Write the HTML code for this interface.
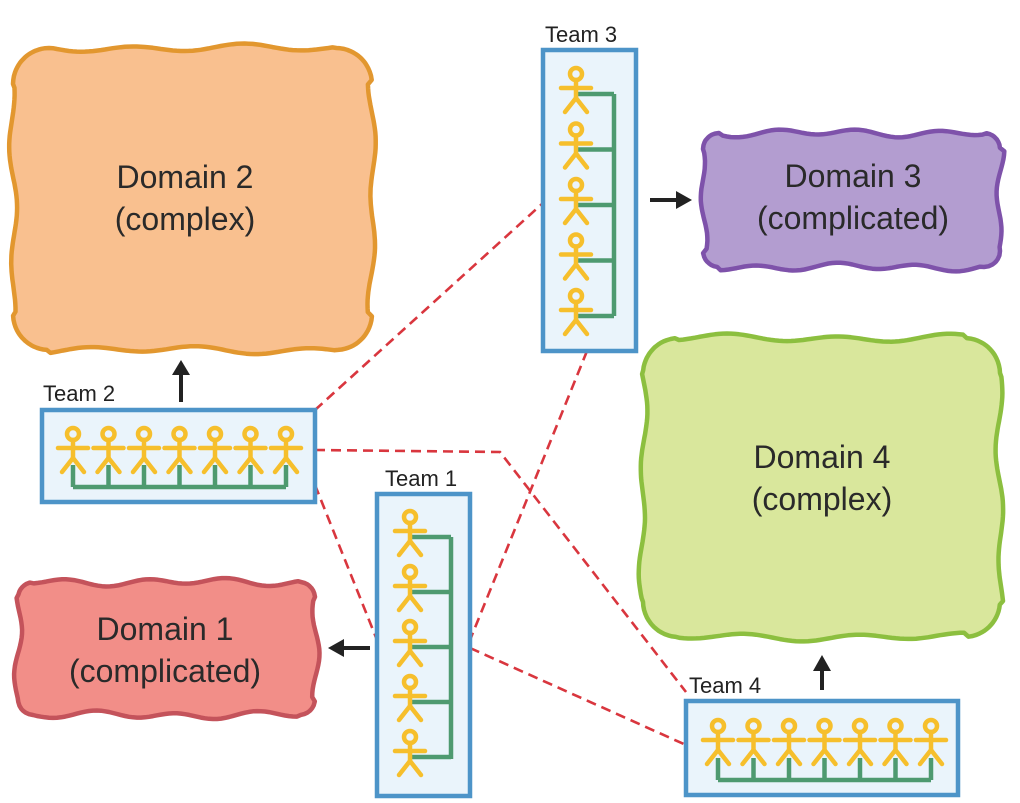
<!DOCTYPE html>
<html><head><meta charset="utf-8"><style>
html,body{margin:0;padding:0;background:#fff}
svg{display:block}
text{font-family:"Liberation Sans",sans-serif}
</style></head><body>
<svg id="s" width="1020" height="803" viewBox="0 0 1020 803" xmlns="http://www.w3.org/2000/svg">
<g id="blobs"></g>
<g stroke="#d9363e" stroke-width="2.6" stroke-dasharray="10,6" fill="none">
<line x1="315" y1="410" x2="543" y2="203"/>
<polyline points="315,450 500,452 686,692"/>
<line x1="315" y1="485" x2="377" y2="640"/>
<line x1="587" y1="351" x2="470" y2="640"/>
<line x1="470" y1="648" x2="686" y2="745"/>
</g>
<g id="teams"></g>
<g stroke="#222" stroke-width="4" fill="#222">
<line x1="181" y1="402" x2="181" y2="372"/><path d="M172,375 L181,360 L190,375 z" stroke="none"/>
<line x1="650" y1="200" x2="678" y2="200"/><path d="M676,191 L692,200 L676,209 z" stroke="none"/>
<line x1="370" y1="648" x2="342" y2="648"/><path d="M344,639 L328,648 L344,657 z" stroke="none"/>
<line x1="822" y1="690" x2="822" y2="668"/><path d="M813,671 L822,655 L831,671 z" stroke="none"/>
</g>
<g font-size="32" fill="#2a2a2a" text-anchor="middle">
<text x="185" y="188">Domain 2</text><text x="185" y="230">(complex)</text>
<text x="853" y="187">Domain 3</text><text x="853" y="229">(complicated)</text>
<text x="822" y="468">Domain 4</text><text x="822" y="510">(complex)</text>
<text x="165" y="640">Domain 1</text><text x="165" y="682">(complicated)</text>
</g>
<g font-size="22" fill="#222">
<text x="43" y="401">Team 2</text>
<text x="385" y="486">Team 1</text>
<text x="545" y="42">Team 3</text>
<text x="689" y="693">Team 4</text>
</g>
</svg>
<script>
var NS="http://www.w3.org/2000/svg";
function el(p,t,a){var e=document.createElementNS(NS,t);for(var k in a)e.setAttribute(k,a[k]);p.appendChild(e);return e;}
function blob(x0,y0,x1,y1,fill,stroke,amp,wl,seed){
 var pts=[],cx=(x0+x1)/2,cy=(y0+y1)/2,r=Math.min(x1-x0,y1-y0)*0.12;
 var per=2*((x1-x0)+(y1-y0)),n=Math.round(per/4);
 for(var i=0;i<n;i++){var d=i/n*per,x,y,nx,ny;
  if(d<x1-x0){x=x0+d;y=y0;nx=0;ny=-1;}
  else if(d<(x1-x0)+(y1-y0)){x=x1;y=y0+d-(x1-x0);nx=1;ny=0;}
  else if(d<2*(x1-x0)+(y1-y0)){x=x1-(d-(x1-x0)-(y1-y0));y=y1;nx=0;ny=1;}
  else{x=x0;y=y1-(d-2*(x1-x0)-(y1-y0));nx=-1;ny=0;}
  var w=amp*Math.sin(d/wl*2*Math.PI+seed)+amp*0.5*Math.sin(d/(wl*0.37)+seed*2);
  x+=nx*w;y+=ny*w;
  var dx=x-cx,dy=y-cy;
  var ex=Math.max(0,Math.abs(dx)-((x1-x0)/2-r)),ey=Math.max(0,Math.abs(dy)-((y1-y0)/2-r));
  if(ex>0&&ey>0){var L=Math.hypot(ex,ey),f=r/L;x=cx+Math.sign(dx)*((x1-x0)/2-r+ex*f);y=cy+Math.sign(dy)*((y1-y0)/2-r+ey*f);}
  pts.push(x.toFixed(1)+","+y.toFixed(1));}
 el(document.getElementById("blobs"),"polygon",{points:pts.join(" "),fill:fill,stroke:stroke,"stroke-width":4.5,"stroke-linejoin":"round"});
}
blob(13,48,372,350,"#f9c08f","#e2972f",3,110,1);
blob(703,133,1000,267,"#b39dd0","#7e52aa",3,80,2);
blob(643,338,1000,637,"#d9e79c","#8cbf3f",3,110,3);
blob(18,582,315,715,"#f28e88","#c4535b",3,80,4);
var T=document.getElementById("teams");
function person(x,y){
 var g=el(T,"g",{stroke:"#f6bf2c","stroke-width":4.5,fill:"none","stroke-linecap":"round"});
 el(g,"circle",{cx:x,cy:y,r:6});
 el(g,"line",{x1:x,y1:y+6,x2:x,y2:y+25});
 el(g,"line",{x1:x-15,y1:y+14,x2:x+15,y2:y+14});
 el(g,"line",{x1:x,y1:y+24,x2:x-11,y2:y+38});
 el(g,"line",{x1:x,y1:y+24,x2:x+11,y2:y+38});
}
function box(x,y,w,h){el(T,"rect",{x:x,y:y,width:w,height:h,fill:"#eaf4fb",stroke:"#4d94c8","stroke-width":4.5});}
box(42,410,273,92);
var g=el(T,"g",{stroke:"#4e9a70","stroke-width":4.5,fill:"none"});
var xs2=[];for(var i=0;i<7;i++)xs2.push(73+i*35.5);
el(g,"line",{x1:73,y1:487,x2:286,y2:487});
xs2.forEach(function(x){el(g,"line",{x1:x,y1:465,x2:x,y2:487});});
xs2.forEach(function(x){person(x,434);});
box(686,701,272,94);
g=el(T,"g",{stroke:"#4e9a70","stroke-width":4.5,fill:"none"});
var xs4=[];for(var i=0;i<7;i++)xs4.push(718+i*35.5);
el(g,"line",{x1:718,y1:780,x2:931,y2:780});
xs4.forEach(function(x){el(g,"line",{x1:x,y1:758,x2:x,y2:780});});
xs4.forEach(function(x){person(x,726);});
box(377,494,93,302);
g=el(T,"g",{stroke:"#4e9a70","stroke-width":4.5,fill:"none"});
var ys1=[];for(var i=0;i<5;i++)ys1.push(517+i*55);
el(g,"line",{x1:451,y1:537,x2:451,y2:759});
ys1.forEach(function(y){el(g,"line",{x1:410,y1:y+20,x2:451,y2:y+20});});
ys1.forEach(function(y){person(410,y);});
box(543,50,93,301);
g=el(T,"g",{stroke:"#4e9a70","stroke-width":4.5,fill:"none"});
var ys3=[];for(var i=0;i<5;i++)ys3.push(74+i*55.5);
el(g,"line",{x1:614,y1:94,x2:614,y2:316});
ys3.forEach(function(y){el(g,"line",{x1:576,y1:y+20,x2:614,y2:y+20});});
ys3.forEach(function(y){person(576,y);});
</script>
</body></html>
